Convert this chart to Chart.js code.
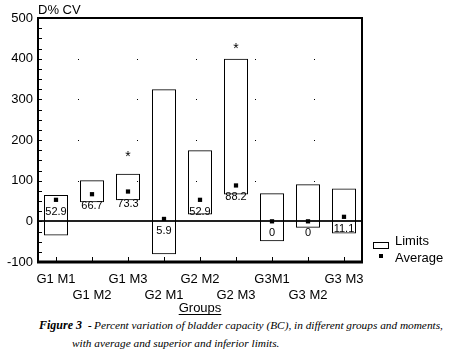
<!DOCTYPE html>
<html>
<head>
<meta charset="utf-8">
<script src="https://cdn.jsdelivr.net/npm/chart.js@4"></script>
<style>
  body { margin: 0; background: #fff; }
  #wrap { position: relative; width: 450px; height: 352px; font-family: 'Liberation Sans', Arial, sans-serif; color: #000; }
  #chart { position: absolute; left: 0; top: 0; }
  .txt { position: absolute; font-size: 13px; line-height: 15px; white-space: nowrap; }
  #ylabel { left: 38px; top: 2px; }
  .lbox { position: absolute; left: 373px; top: 242px; width: 14px; height: 5px; border: 1px solid #000; }
  .lsq { position: absolute; left: 379px; top: 254px; width: 4px; height: 4px; background: #000; }
  .cap { position: absolute; font-family: 'Liberation Serif', 'Times New Roman', serif; font-style: italic; font-size: 11.3px; line-height: 14px; white-space: nowrap; }
</style>
</head>
<body>
<div id="wrap">
  <canvas id="chart" width="450" height="318"></canvas>
  <div class="txt" id="ylabel">D% CV</div>
  <div class="lbox"></div>
  <div class="txt" style="left:395px; top:233px;">Limits</div>
  <div class="lsq"></div>
  <div class="txt" style="left:395px; top:250px;">Average</div>
  <div class="cap" style="left:39px; top:318px; font-size:12px;"><b>Figure 3</b></div>
  <div class="cap" style="left:88px; top:318px;"><b>-</b></div>
  <div class="cap" style="left:94px; top:318px;">Percent variation of bladder capacity (BC), in different groups and moments,</div>
  <div class="cap" style="left:72px; top:336px;">with average and superior and inferior limits.</div>
</div>
<script>
const categories = ['G1 M1', 'G1 M2', 'G1 M3', 'G2 M1', 'G2 M2', 'G2 M3', 'G3M1', 'G3 M2', 'G3 M3'];
const lowerLimits = [-35, 47, 52, -81, 17, 66, -49, -16, -30];
const upperLimits = [65, 101, 117, 325, 175, 400, 69, 91, 81];
const averages = [52.9, 66.7, 73.3, 5.9, 52.9, 88.2, 0, 0, 11.1];
const starValues = [null, null, 167, null, null, 434, null, null, null];
const yMin = -100, yMax = 500, yStep = 100;

const font = { family: "'Liberation Sans', Arial, sans-serif", size: 13 };

// frame, zero line, inner ticks, dotted grid
const decor = {
  id: 'decor',
  beforeDatasetsDraw(chart) {
    const { ctx, chartArea: a, scales: { x, y } } = chart;
    ctx.save();
    ctx.strokeStyle = '#000';
    ctx.lineWidth = 1;
    ctx.setLineDash([1, 58]);
    ctx.lineDashOffset = 19;
    for (let v = yStep; v < yMax; v += yStep) {
      const py = Math.round(y.getPixelForValue(v)) + 0.5;
      ctx.beginPath(); ctx.moveTo(a.left, py); ctx.lineTo(a.right, py); ctx.stroke();
    }
    ctx.setLineDash([]);
    ctx.lineDashOffset = 0;
    // zero line
    ctx.strokeStyle = '#222';
    ctx.lineWidth = 2;
    const z = Math.round(y.getPixelForValue(0));
    ctx.beginPath(); ctx.moveTo(a.left, z); ctx.lineTo(a.right, z); ctx.stroke();
    // y ticks inside
    ctx.strokeStyle = '#000';
    ctx.lineWidth = 1;
    for (let v = yMin; v <= yMax; v += yStep / 4) {
      const py = Math.round(y.getPixelForValue(v)) + 0.5;
      ctx.beginPath(); ctx.moveTo(a.left, py); ctx.lineTo(a.left + 4, py); ctx.stroke();
    }
    // x ticks inside
    categories.forEach((c, i) => {
      const px = Math.round(x.getPixelForValue(i)) + 0.5;
      ctx.beginPath(); ctx.moveTo(px, a.bottom); ctx.lineTo(px, a.bottom - 5); ctx.stroke();
    });
    // frame
    ctx.lineWidth = 2;
    ctx.strokeRect(a.left, a.top, a.right - a.left, a.bottom - a.top);
    ctx.lineWidth = 3;
    ctx.beginPath(); ctx.moveTo(a.left - 1, a.bottom); ctx.lineTo(a.right + 1, a.bottom); ctx.stroke();
    ctx.restore();
  },
  afterDatasetsDraw(chart) {
    const { ctx, scales: { x, y } } = chart;
    ctx.save();
    ctx.fillStyle = '#000';
    ctx.textAlign = 'center';
    ctx.textBaseline = 'middle';
    ctx.font = "11px 'Liberation Sans', Arial, sans-serif";
    chart.getDatasetMeta(1).data.forEach((pt, i) => {
      ctx.fillText(String(averages[i]), pt.x, pt.y + 12);
    });
    ctx.font = "14px 'Liberation Sans', Arial, sans-serif";
    ctx.textBaseline = 'alphabetic';
    starValues.forEach((v, i) => {
      if (v === null) return;
      ctx.fillText('*', x.getPixelForValue(i), y.getPixelForValue(v) + 8);
    });
    // underline the axis title
    const t = x.options.title;
    ctx.font = "13px 'Liberation Sans', Arial, sans-serif";
    const w = ctx.measureText(t.text).width;
    const cx = (chart.chartArea.left + chart.chartArea.right) / 2;
    ctx.fillRect(cx - w / 2, 314, w, 1);
    ctx.restore();
  }
};

new Chart(document.getElementById('chart'), {
  data: {
    labels: categories.map((c, i) => i % 2 ? ['', c] : c),
    datasets: [
      {
        type: 'bar',
        label: 'Limits',
        data: lowerLimits.map((lo, i) => [lo, upperLimits[i]]),
        backgroundColor: 'rgba(255,255,255,0)',
        borderColor: '#000',
        borderWidth: 1,
        borderSkipped: false,
        barPercentage: 1,
        categoryPercentage: 0.667
      },
      {
        type: 'line',
        label: 'Average',
        data: averages,
        showLine: false,
        pointStyle: 'rect',
        pointRadius: 3,
        pointBackgroundColor: '#000',
        pointBorderColor: '#000',
        pointBorderWidth: 0
      }
    ]
  },
  options: {
    responsive: false,
    animation: false,
    layout: { padding: { top: 18, right: 88, left: 0, bottom: 0 } },
    plugins: { legend: { display: false }, tooltip: { enabled: false } },
    scales: {
      x: {
        grid: { display: false, drawTicks: false },
        border: { display: false },
        ticks: { font, color: '#000', padding: 10, maxRotation: 0, autoSkip: false },
        title: { display: true, text: 'Groups', font, color: '#000', padding: { top: 0, bottom: 2 } },
        afterFit(s) { s.height = 56; }
      },
      y: {
        min: yMin,
        max: yMax,
        grid: { display: false, drawTicks: false },
        border: { display: false },
        ticks: { stepSize: yStep, font, color: '#000', padding: 5 },
        afterFit(s) { s.width = 38; }
      }
    }
  },
  plugins: [decor]
});
</script>
</body>
</html>
